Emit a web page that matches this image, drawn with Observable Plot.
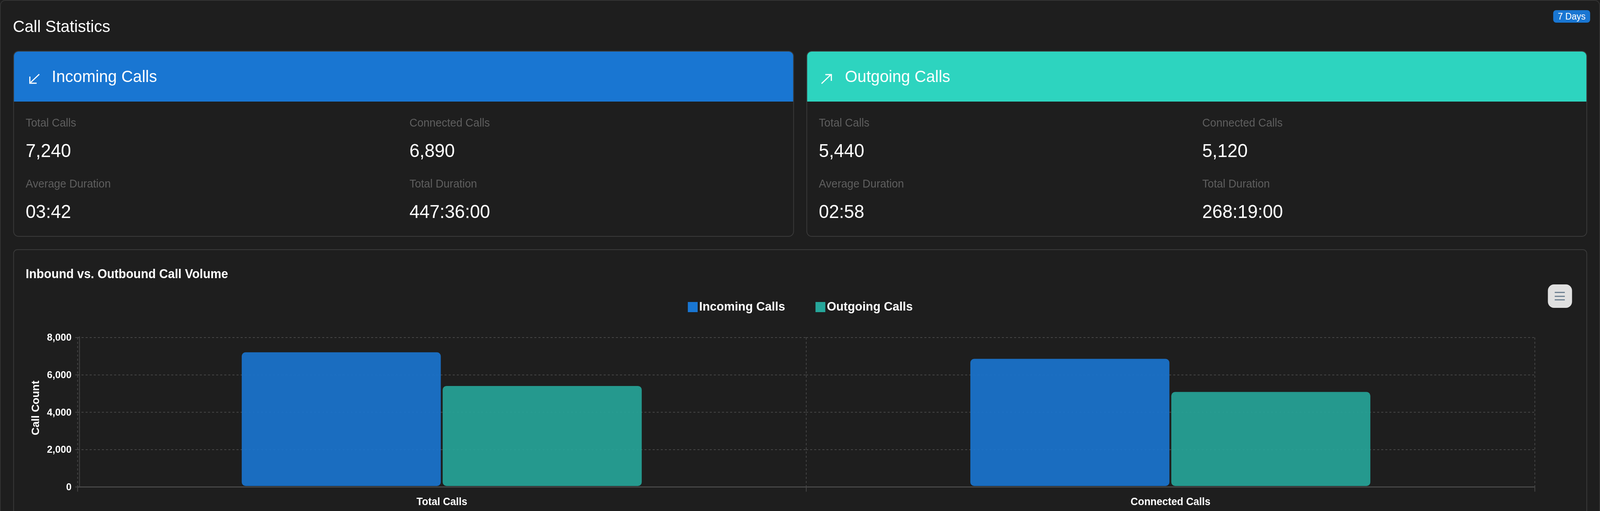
<!DOCTYPE html>
<html>
<head>
<meta charset="utf-8">
<script src="https://cdn.jsdelivr.net/npm/d3@7"></script>
<script src="https://cdn.jsdelivr.net/npm/@observablehq/plot@0.6"></script>
<style>
  html, body { margin: 0; padding: 0; height: 1308px; overflow: hidden; background: #1e1e1e; font-family: "Liberation Sans", Arial, sans-serif; color: #fff; }
  #root { position: absolute; left: 0; top: 0; width: 4236px; height: 1308px; overflow: hidden; transform-origin: 0 0; }
  .abs { position: absolute; white-space: nowrap; }
  .box { position: absolute; box-sizing: border-box; border: 2px solid #3a3a3a; border-radius: 14px; }
  .head { position: absolute; left: 0; right: 0; top: 0; height: 128px; border-radius: 12px 12px 0 0; }
  .label { position: absolute; font-size: 29px; color: #5f5f5f; line-height: 1; white-space: nowrap; }
  .value { position: absolute; font-size: 48px; color: #fff; line-height: 1; white-space: nowrap; }
  .htitle { position: absolute; left: 100px; top: 43px; font-size: 42.5px; line-height: 1; color: #fff; white-space: nowrap; }
  .legend { position: absolute; font-size: 32px; font-weight: 700; line-height: 1; color: #fff; white-space: nowrap; }
  .sw { position: absolute; width: 26px; height: 26px; }
</style>
</head>
<body>
<div id="root"></div>
<script>
const pageTitle = "Call Statistics";
const badgeText = "7 Days";
const chartTitle = "Inbound vs. Outbound Call Volume";
const yAxisTitle = "Call Count";
const categories = ["Total Calls", "Connected Calls"];
const seriesNames = ["Incoming Calls", "Outgoing Calls"];
const incomingValues = [7240, 6890];
const outgoingValues = [5440, 5120];
const yTicks = [0, 2000, 4000, 6000, 8000];
const seriesColors = ["#1976d2", "#26a69a"];
const statLabels = ["Total Calls", "Connected Calls", "Average Duration", "Total Duration"];
const incomingStats = ["7,240", "6,890", "03:42", "447:36:00"];
const outgoingStats = ["5,440", "5,120", "02:58", "268:19:00"];

const root = document.getElementById("root");
// The browser window may be narrower than the reference's 4236 px: keep the full layout in view.
root.style.transform = "scale(" + (window.innerWidth / 4236) + ",1)";

function el(cls, css, text, parent) {
  const d = document.createElement("div");
  d.className = cls;
  Object.assign(d.style, css);
  if (text != null) d.textContent = text;
  (parent || root).appendChild(d);
  return d;
}

// outer panel
el("box", {left: "0", top: "0", width: "4236px", height: "1400px", borderColor: "#333"});
el("abs", {left: "34px", top: "45.5px", fontSize: "43px", lineHeight: "1", fontWeight: "400"}, pageTitle);
el("abs", {left: "4112px", top: "26px", width: "98px", height: "32px", background: "#1976d2", borderRadius: "8px",
  fontSize: "23.5px", lineHeight: "32px", textAlign: "center", color: "#fff"}, badgeText);

function card(left, color, title, arrow, stats, col2) {
  const c = el("box", {left: left + "px", top: "130px", width: "2067px", height: "476px"});
  el("head", {background: color}, null, c);
  const svg = document.createElementNS("http://www.w3.org/2000/svg", "svg");
  svg.setAttribute("width", 32); svg.setAttribute("height", 32); svg.setAttribute("viewBox", "0 0 32 32");
  svg.style.position = "absolute"; svg.style.left = "37px"; svg.style.top = "54px";
  const p = document.createElementNS("http://www.w3.org/2000/svg", "path");
  p.setAttribute("d", arrow); p.setAttribute("fill", "none"); p.setAttribute("stroke", "#fff"); p.setAttribute("stroke-width", "3");
  svg.appendChild(p); c.appendChild(svg);
  el("htitle", {}, title, c);
  const colX = [31, col2];
  const rowsY = [[168, 230], [324, 386]];
  stats.forEach((v, i) => {
    const cx = colX[i % 2], r = rowsY[i >> 1];
    el("label", {left: cx + "px", top: r[0] + "px"}, statLabels[i], c);
    el("value", {left: cx + "px", top: r[1] + "px"}, v, c);
  });
}
card(35, "#1976d2", seriesNames[0], "M30 4 L5 27 M5 10 V27 H23", incomingStats, 1047);
card(2135, "#2dd4bf", seriesNames[1], "M1 28 L27 4 M11 5 H27 V21", outgoingStats, 1046);

// chart panel
el("box", {left: "35px", top: "638px", width: "4167px", height: "760px", borderRadius: "11px"});
el("abs", {left: "68px", top: "685px", fontSize: "32.3px", fontWeight: "700", lineHeight: "1"}, chartTitle);

// legend
const legendX = [[1821, 1851], [2159, 2189]];
seriesNames.forEach((s, i) => {
  el("sw", {left: legendX[i][0] + "px", top: "773px", background: seriesColors[i]});
  el("legend", {left: legendX[i][1] + "px", top: "768px"}, s);
});

// menu button
const menu = el("abs", {left: "4098px", top: "728px", width: "64px", height: "60px", background: "#e0e0e0", borderRadius: "16px"});
[19, 28.5, 37.5].forEach(t => el("abs", {left: "18px", top: t + "px", width: "27px", height: "3px", background: "#6e8192", borderRadius: "1px"}, null, menu));

// chart
const rows = categories.flatMap((c, i) => [
  {category: c, series: seriesNames[0], value: incomingValues[i]},
  {category: c, series: seriesNames[1], value: outgoingValues[i]}
]);
const gridColor = "#474747";
const dash = "5.4,5.4";
const chart = Plot.plot({
  width: 4236,
  height: 488,
  marginLeft: 205,
  marginRight: 173,
  marginTop: 43.5,
  marginBottom: 62,
  style: {background: "transparent", color: "#fff", fontFamily: '"Liberation Sans", Arial, sans-serif', overflow: "visible"},
  fx: {domain: categories, padding: 0, round: false, label: null},
  x: {domain: seriesNames, paddingInner: 0.0094, paddingOuter: 0.8176, round: false, axis: null},
  y: {domain: [0, 8000], label: null},
  color: {domain: seriesNames, range: seriesColors},
  marks: [
    Plot.gridY(yTicks.slice(1), {stroke: gridColor, strokeOpacity: 1, strokeWidth: 2, strokeDasharray: dash}),
    Plot.frame({anchor: "left", stroke: gridColor, strokeWidth: 2, strokeDasharray: dash, strokeLinecap: "butt"}),
    Plot.frame({anchor: "right", fx: [categories[1]], stroke: gridColor, strokeWidth: 2, strokeDasharray: dash, strokeLinecap: "butt"}),
    Plot.frame({anchor: "left", insetTop: 382.5, insetBottom: -12, stroke: gridColor, strokeWidth: 2, strokeLinecap: "butt"}),
    Plot.frame({anchor: "right", fx: [categories[1]], insetTop: 382.5, insetBottom: -12, stroke: gridColor, strokeWidth: 2, strokeLinecap: "butt"}),
    Plot.frame({anchor: "left", fx: [categories[0]], dx: 5, insetTop: -3, stroke: gridColor, strokeWidth: 2, strokeLinecap: "butt"}),
    Plot.ruleY([0], {stroke: gridColor, strokeWidth: 3}),
    Plot.barY(rows, {fx: "category", x: "series", y: "value", fill: "series", fillOpacity: 0.9, rx: 10, insetTop: 2, insetBottom: 2}),
    Plot.axisY({ticks: yTicks, tickFormat: d3.format(","), tickSize: 11, tickPadding: 10, dx: 5, stroke: gridColor, strokeWidth: 2,
      fontSize: 26, fontWeight: 700, fill: "#fff", label: null}),
    Plot.text([yAxisTitle], {fx: [categories[0]], frameAnchor: "left", rotate: -90, dx: -111, dy: -11,
      fontSize: 28, fontWeight: 700, fill: "#fff", textAnchor: "middle", lineAnchor: "middle"}),
    Plot.axisFx({anchor: "bottom", label: null, tickSize: 0, tickPadding: 27, fontSize: 27, fontWeight: 700, fill: "#fff"})
  ]
});
chart.style.position = "absolute";
chart.style.left = "0";
chart.style.top = "820px";
root.appendChild(chart);
</script>
</body>
</html>
